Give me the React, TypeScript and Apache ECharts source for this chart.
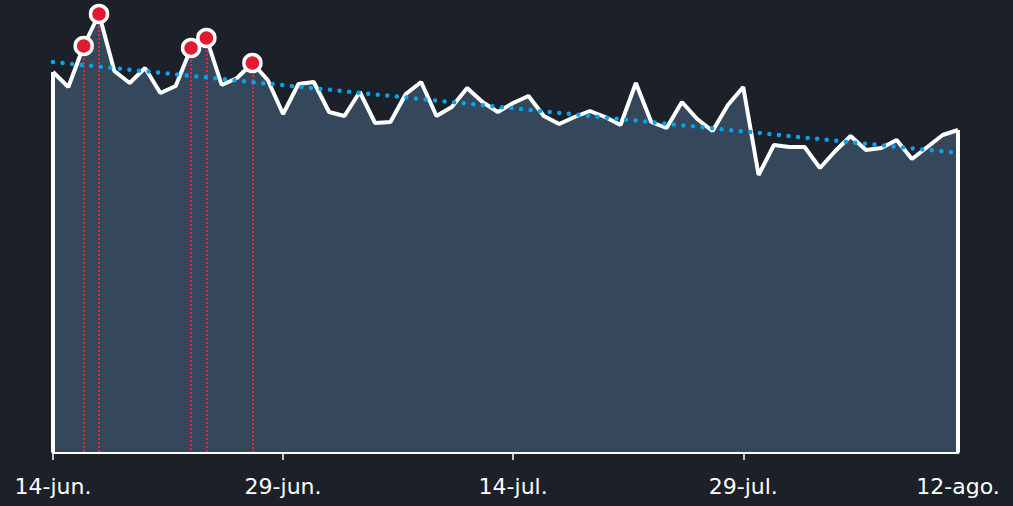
import React, { useEffect, useRef } from "react";
import * as echarts from "echarts";

const categories: string[] = [
  "14-jun.", "15-jun.", "16-jun.", "17-jun.", "18-jun.", "19-jun.", "20-jun.", "21-jun.", "22-jun.", "23-jun.",
  "24-jun.", "25-jun.", "26-jun.", "27-jun.", "28-jun.", "29-jun.", "30-jun.", "1-jul.", "2-jul.", "3-jul.",
  "4-jul.", "5-jul.", "6-jul.", "7-jul.", "8-jul.", "9-jul.", "10-jul.", "11-jul.", "12-jul.", "13-jul.",
  "14-jul.", "15-jul.", "16-jul.", "17-jul.", "18-jul.", "19-jul.", "20-jul.", "21-jul.", "22-jul.", "23-jul.",
  "24-jul.", "25-jul.", "26-jul.", "27-jul.", "28-jul.", "29-jul.", "30-jul.", "31-jul.", "1-ago.", "2-ago.",
  "3-ago.", "4-ago.", "5-ago.", "6-ago.", "7-ago.", "8-ago.", "9-ago.", "10-ago.", "11-ago.", "12-ago.",
];

const values: number[] = [
  380, 365, 406, 438, 381, 369, 384, 359, 366, 404,
  414, 367, 374, 389, 372, 338, 368, 370, 340, 336,
  360, 329, 330, 358, 370, 336, 345, 364, 350, 340,
  349, 356, 336, 328, 335, 341, 335, 327, 369, 330,
  324, 350, 333, 321, 347, 365, 277, 307, 305, 305,
  284, 301, 316, 302, 304, 312, 293, 305, 317, 322,
];

const trendStart = 390;
const trendEnd = 299;

const highlightIndices: number[] = [2, 3, 9, 10, 13];

const labelIndices: number[] = [0, 15, 30, 45, 59];
const tickIndices: number[] = [0, 15, 30, 45];

export default function App() {
  const ref = useRef<HTMLDivElement>(null);

  useEffect(() => {
    document.body.style.margin = "0";
    document.body.style.background = "#1b2029";
    if (!ref.current) return;
    const chart = echarts.init(ref.current, undefined, { renderer: "svg" });
    const last = categories.length - 1;

    const trendData = categories.map((_, i) =>
      i === 0 ? trendStart : i === last ? trendEnd : null
    );

    const highlightData = highlightIndices.map((i) => [categories[i], values[i]]);

    chart.setOption({
      animation: false,
      backgroundColor: "#1b2029",
      grid: { left: 53, right: 55, top: 2, bottom: 54 },
      xAxis: {
        type: "category",
        data: categories,
        boundaryGap: false,
        axisLine: { show: true, lineStyle: { color: "#ffffff", width: 3 } },
        axisTick: {
          show: true,
          length: 8,
          interval: (i: number) => tickIndices.includes(i),
          lineStyle: { color: "#ffffff", width: 1.5 },
        },
        axisLabel: {
          interval: (i: number) => labelIndices.includes(i),
          color: "#ffffff",
          fontSize: 22,
          fontFamily: "DejaVu Sans",
          margin: 23,
          showMaxLabel: true,
          showMinLabel: true,
        },
        splitLine: { show: false },
      },
      yAxis: {
        type: "value",
        min: 0,
        max: 450,
        show: false,
        splitLine: { show: false },
      },
      series: [
        {
          type: "line",
          data: values,
          symbol: "none",
          z: 3,
          lineStyle: { color: "#ffffff", width: 4 },
          areaStyle: { color: "#35475a", opacity: 1 },
          markLine: {
            silent: true,
            symbol: "none",
            label: { show: false },
            lineStyle: { color: "#ffffff", width: 4, type: "solid" },
            data: [
              [{ coord: [categories[0], 0] }, { coord: [categories[0], values[0]] }],
              [{ coord: [categories[last], 0] }, { coord: [categories[last], values[last]] }],
            ],
          },
        },
        {
          type: "line",
          data: [],
          z: 4,
          markLine: {
            silent: true,
            symbol: "none",
            label: { show: false },
            lineStyle: { color: "#ea2438", width: 2, type: [2, 2] },
            data: highlightIndices.map((i) => [
              { coord: [categories[i], values[i]] },
              { coord: [categories[i], 0] },
            ]),
          },
        },
        {
          type: "line",
          data: trendData,
          connectNulls: true,
          symbol: "none",
          z: 5,
          lineStyle: { color: "#0aa3ea", width: 4.5, type: [0, 9.6], cap: "round" },
        },
        {
          type: "scatter",
          data: highlightData,
          symbol: "circle",
          symbolSize: 17,
          z: 6,
          itemStyle: { color: "#e01a30", borderColor: "#ffffff", borderWidth: 3.5, opacity: 1 },
        },
      ],
    });

    return () => chart.dispose();
  }, []);

  return <div ref={ref} style={{ width: 1013, height: 506 }} />;
}
